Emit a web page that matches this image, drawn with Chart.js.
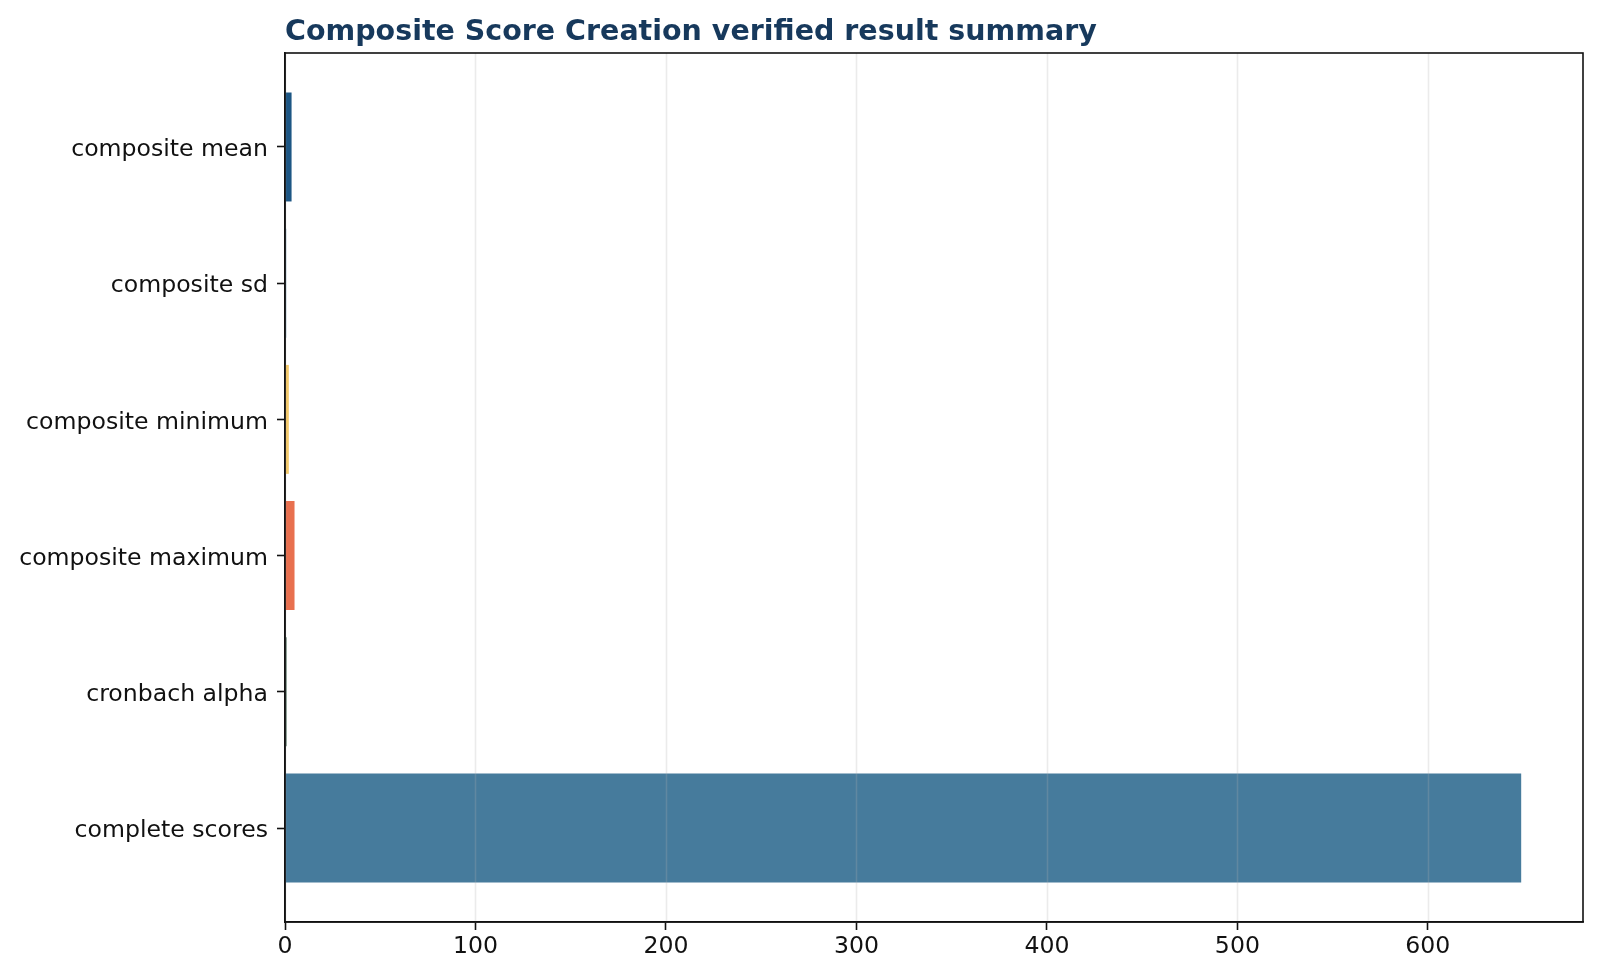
<!DOCTYPE html>
<html>
<head>
<meta charset="utf-8">
<script src="https://cdn.jsdelivr.net/npm/chart.js@4/dist/chart.umd.min.js"></script>
<style>
  html, body { margin: 0; padding: 0; background: #ffffff; }
  #wrap { width: 1600px; height: 978px; }
</style>
</head>
<body>
<div id="wrap"><canvas id="summary" width="1600" height="978"></canvas></div>
<script>
// categories listed top to bottom, as in the picture
const categories = ['composite mean', 'composite sd', 'composite minimum', 'composite maximum', 'cronbach alpha', 'complete scores'];
const values = [3.45, 0.62, 2.0, 5.0, 0.86, 649];
const barColors = ['#1d5684', '#3b6f8f', '#f4c96a', '#e8704f', '#4f6f5f', '#467b9c'];
const xTicks = [0, 100, 200, 300, 400, 500, 600];
const titleText = 'Composite Score Creation verified result summary';

const FONT = 'DejaVu Sans';
const n = categories.length;

// bottom row sits at 0, top row at n - 1
const points = categories.map(function(c, i) {
	return { x: values[i], y: n - 1 - i };
});

const xMax = Math.max.apply(null, values) * 1.05;

// grid over the bars, full frame and left-aligned title
const frame = {
	id: 'frame',
	afterDatasetsDraw: function(chart) {
		const ctx = chart.ctx;
		const area = chart.chartArea;
		const xs = chart.scales.x;
		ctx.save();
		ctx.strokeStyle = 'rgba(176,176,176,0.25)';
		ctx.lineWidth = 1.6;
		xTicks.forEach(function(t) {
			const px = Math.round(xs.getPixelForValue(t)) + 0.5;
			ctx.beginPath();
			ctx.moveTo(px, area.top);
			ctx.lineTo(px, area.bottom);
			ctx.stroke();
		});
		ctx.strokeStyle = '#111111';
		ctx.lineWidth = 1.6;
		ctx.strokeRect(area.left, area.top, area.right - area.left, area.bottom - area.top);
		ctx.restore();
	},
	afterDraw: function(chart) {
		const ctx = chart.ctx;
		ctx.save();
		ctx.fillStyle = '#17395c';
		ctx.font = 'bold 28.5px "' + FONT + '"';
		ctx.textAlign = 'left';
		ctx.textBaseline = 'alphabetic';
		ctx.fillText(titleText, chart.chartArea.left, 39.5);
		ctx.restore();
	}
};

const config_summary = {
	type: 'bar',
	data: {
		datasets: [
			{
				label: 'value',
				data: points,
				backgroundColor: barColors,
				borderWidth: 0,
				barPercentage: 0.8,
				categoryPercentage: 1.0,
			}
		]
	},
	plugins: [frame],
	options: {
		indexAxis: 'y',
		responsive: false,
		animation: false,
		devicePixelRatio: 1,
		layout: {
			padding: { top: 53, right: 17, left: 0, bottom: 0 }
		},
		plugins: {
			legend: { display: false },
			title: { display: false },
			tooltip: { enabled: false }
		},
		scales: {
			x: {
				type: 'linear',
				min: 0,
				max: xMax,
				afterBuildTicks: function(scale) {
					scale.ticks = xTicks.map(function(v) { return { value: v }; });
				},
				afterFit: function(scale) {
					scale.height = 56;
				},
				ticks: {
					color: '#111111',
					font: { family: FONT, size: 23.6 },
					padding: 3,
					maxRotation: 0,
					autoSkip: false
				},
				grid: {
					drawOnChartArea: false,
					drawTicks: true,
					tickLength: 8,
					tickColor: '#111111',
					tickWidth: 1.6
				},
				border: { display: true, color: '#111111', width: 1.6 }
			},
			y: {
				type: 'linear',
				offset: false,
				min: -0.69,
				max: n - 1 + 0.69,
				afterBuildTicks: function(scale) {
					scale.ticks = categories.map(function(c, i) { return { value: i }; });
				},
				afterFit: function(scale) {
					scale.width = 285;
				},
				ticks: {
					color: '#111111',
					font: { family: FONT, size: 23.6 },
					padding: 9,
					labelOffset: 3,
					autoSkip: false,
					callback: function(value) {
						return categories[n - 1 - value];
					}
				},
				grid: {
					offset: false,
					drawOnChartArea: false,
					drawTicks: true,
					tickLength: 8,
					tickColor: '#111111',
					tickWidth: 1.6
				},
				border: { display: true, color: '#111111', width: 1.6 }
			}
		}
	}
};

const summary = new Chart(
	document.getElementById('summary'),
	config_summary
);
</script>
</body>
</html>
